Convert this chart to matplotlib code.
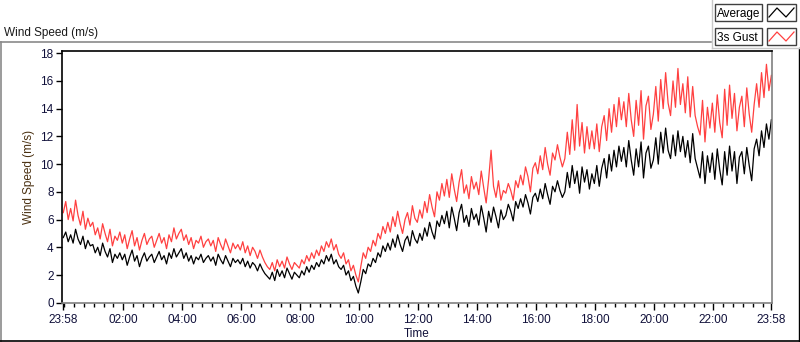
import matplotlib
matplotlib.use("Agg")
import matplotlib.pyplot as plt
from matplotlib.lines import Line2D
from matplotlib.patches import Rectangle
import numpy as np

# samples every 5 minutes starting at 23:58, one row per hour
step_min = 5
avg_rows = [
    [4.7, 5.1, 4.4, 4.9, 4.3, 5.3, 4.6, 4.2, 4.8, 3.9, 4.5, 4.1],
    [4.2, 3.6, 4.0, 3.4, 4.3, 3.7, 3.3, 3.9, 2.9, 3.5, 3.2, 3.6],
    [3.1, 3.5, 2.7, 3.3, 3.8, 3.0, 3.4, 2.6, 3.2, 3.6, 3.0, 3.3],
    [3.5, 2.9, 3.3, 3.7, 3.1, 3.4, 2.8, 3.6, 3.2, 3.9, 3.3, 3.6],
    [3.9, 3.2, 3.6, 3.0, 3.4, 2.8, 3.3, 3.1, 3.5, 2.9, 3.2, 3.4],
    [3.0, 3.3, 2.7, 3.5, 3.1, 2.8, 3.4, 3.0, 2.6, 3.2, 2.9, 3.1],
    [2.8, 3.2, 2.6, 3.0, 2.5, 2.9, 2.7, 2.3, 2.8, 2.4, 2.1, 1.9],
    [1.7, 2.2, 1.6, 2.4, 1.9, 2.3, 1.8, 2.5, 2.1, 1.7, 2.2, 2.0],
    [1.8, 2.3, 2.0, 2.6, 2.2, 2.7, 2.4, 2.9, 2.6, 3.1, 2.8, 3.4],
    [3.0, 3.5, 2.8, 3.1, 2.6, 2.4, 2.7, 2.0, 2.3, 1.6, 1.9, 1.2],
    [0.7, 1.5, 2.4, 2.1, 2.8, 2.6, 3.2, 2.9, 3.6, 3.3, 4.1, 3.7],
    [4.3, 3.8, 4.6, 4.0, 4.9, 4.2, 3.7, 4.5, 4.8, 4.1, 5.2, 4.6],
    [4.3, 5.0, 4.5, 5.4, 4.8, 5.8, 5.1, 4.6, 5.9, 5.5, 6.3, 5.7],
    [6.6, 5.4, 6.9, 6.1, 5.2, 6.5, 7.1, 5.8, 6.3, 5.5, 6.8, 6.0],
    [6.4, 5.6, 7.0, 6.1, 5.1, 6.6, 5.8, 6.9, 6.2, 5.4, 6.7, 6.0],
    [6.3, 7.1, 6.6, 5.9, 7.3, 6.8, 7.5, 6.9, 7.8, 7.2, 6.4, 7.6],
    [7.9, 7.3, 8.2, 7.5, 8.6, 7.8, 7.1, 8.4, 8.0, 8.8, 8.1, 7.6],
    [8.0, 9.4, 8.3, 9.9, 8.6, 9.5, 7.9, 9.8, 8.7, 9.6, 8.2, 9.3],
    [8.6, 9.9, 8.4, 9.7, 10.4, 9.0, 10.7, 9.5, 11.0, 9.8, 11.3, 10.2],
    [11.2, 9.8, 11.7, 10.3, 9.2, 11.1, 9.8, 11.6, 9.0, 10.8, 11.3, 9.7],
    [10.3, 11.9, 10.0, 12.3, 10.8, 12.6, 11.0, 10.4, 12.1, 10.6, 12.4, 10.9],
    [12.0, 10.5, 11.7, 10.1, 12.2, 10.4, 9.7, 9.0, 10.9, 8.6, 10.6, 9.4],
    [10.8, 8.9, 11.1, 9.6, 8.5, 10.9, 9.2, 11.3, 9.5, 10.9, 8.6, 10.5],
    [10.9, 9.3, 11.2, 9.9, 8.8, 11.1, 11.8, 10.6, 12.4, 11.2, 12.9, 11.8],
    [13.2],
]
gust_rows = [
    [6.5, 7.3, 6.0, 6.8, 5.9, 7.4, 6.3, 5.6, 6.6, 5.3, 6.1, 5.5],
    [5.8, 4.9, 5.4, 4.6, 5.7, 5.0, 4.4, 5.3, 4.1, 4.8, 4.5, 5.1],
    [4.3, 4.9, 3.9, 4.6, 5.2, 4.1, 4.7, 3.8, 4.5, 5.0, 4.2, 4.6],
    [4.8, 4.0, 4.5, 5.0, 4.3, 4.7, 3.9, 4.9, 4.4, 5.4, 4.6, 5.0],
    [5.3, 4.5, 4.9, 4.2, 4.7, 3.9, 4.5, 4.3, 4.8, 4.0, 4.4, 4.6],
    [4.1, 4.5, 3.7, 4.7, 4.2, 3.8, 4.6, 4.1, 3.6, 4.3, 3.9, 4.2],
    [3.8, 4.4, 3.6, 4.1, 3.4, 4.0, 3.7, 3.2, 3.8, 3.3, 2.9, 2.6],
    [2.4, 2.9, 2.3, 3.1, 2.6, 3.0, 2.5, 3.3, 2.8, 2.4, 2.9, 2.7],
    [2.5, 3.1, 2.8, 3.4, 3.0, 3.6, 3.2, 3.8, 3.4, 4.1, 3.7, 4.4],
    [4.0, 4.6, 3.8, 4.2, 3.5, 3.2, 3.6, 2.8, 3.1, 2.3, 2.7, 2.0],
    [1.5, 2.6, 3.6, 3.2, 4.0, 3.7, 4.5, 4.1, 5.0, 4.6, 5.5, 5.0],
    [5.8, 5.1, 6.2, 5.5, 6.6, 5.7, 5.0, 6.0, 6.5, 5.6, 7.0, 6.1],
    [5.8, 6.7, 6.1, 7.3, 6.5, 7.8, 6.9, 6.2, 8.0, 7.4, 8.6, 7.7],
    [8.9, 7.6, 9.3, 8.2, 7.3, 8.7, 9.6, 7.9, 8.5, 7.5, 9.1, 8.2],
    [8.7, 7.8, 9.5, 8.3, 7.2, 8.9, 11.0, 8.4, 7.6, 8.8, 7.4, 8.1],
    [7.9, 8.6, 8.1, 7.4, 8.8, 8.3, 9.2, 8.5, 9.8, 9.1, 8.0, 9.7],
    [10.1, 9.3, 10.6, 9.6, 11.2, 10.0, 9.2, 10.8, 10.3, 11.4, 10.5, 9.8],
    [10.4, 12.3, 10.7, 13.2, 11.0, 14.3, 11.3, 13.0, 10.8, 12.7, 11.1, 12.4],
    [11.1, 12.9, 10.9, 12.7, 13.5, 11.7, 14.0, 12.3, 14.3, 12.7, 14.8, 13.2],
    [14.5, 12.7, 15.1, 13.2, 12.0, 14.6, 12.8, 15.3, 11.8, 14.2, 14.9, 12.5],
    [13.6, 15.6, 13.1, 16.1, 14.0, 16.6, 14.4, 13.5, 16.0, 14.1, 16.9, 14.3],
    [15.8, 13.7, 16.3, 13.4, 15.6, 13.5, 12.7, 12.1, 14.6, 11.6, 14.1, 12.6],
    [14.4, 12.3, 15.0, 13.0, 11.9, 15.4, 12.8, 15.7, 13.3, 15.1, 12.4, 14.1],
    [14.9, 12.7, 15.5, 13.6, 12.3, 14.3, 15.8, 14.1, 16.6, 14.8, 17.2, 15.3],
    [16.4],
]
tick_labels = ["23:58", "02:00", "04:00", "06:00", "08:00", "10:00", "12:00",
               "14:00", "16:00", "18:00", "20:00", "22:00", "23:58"]
tick_minutes = [0, 122, 242, 362, 482, 602, 722, 842, 962, 1082, 1202, 1322, 1440]

avg = np.concatenate([np.array(r) for r in avg_rows])
gust = np.concatenate([np.array(r) for r in gust_rows])
t = np.arange(avg.size) * step_min

W, H = 800, 342
plt.rcParams["font.family"] = ["Liberation Sans", "DejaVu Sans"]
fig = plt.figure(figsize=(W / 100, H / 100), dpi=100)


def fx(px):
    return px / W


def fy(py):
    return 1 - py / H


ax = fig.add_axes([fx(62), fy(303), fx(772) - fx(62), fy(51) - fy(303)])
ax.plot(t, gust, color="#ff4040", lw=0.9)
ax.plot(t, avg, color="black", lw=0.9)
ax.set_xlim(-2.6, 1441.3)
ax.set_ylim(-0.02, 18.16)

navy = "#10103a"
ax.set_yticks(np.arange(0, 19, 2))
ax.set_xticks(tick_minutes)
ax.set_xticklabels(tick_labels)
ax.set_xticks(np.arange(2, 1440, 20), minor=True)
ax.tick_params(axis="both", which="major", direction="out", length=4, width=1,
               labelsize=8.5, labelcolor=navy, pad=2)
ax.tick_params(axis="x", which="major", length=5, pad=3)
ax.tick_params(axis="x", which="minor", direction="out", length=3, width=1)
for s in ["top", "left"]:
    ax.spines[s].set_color("black")
    ax.spines[s].set_linewidth(1.2)
for s in ["right", "bottom"]:
    ax.spines[s].set_color("#808080")
    ax.spines[s].set_linewidth(1.2)

ax.set_ylabel("Wind Speed (m/s)", fontsize=8.5, color="#4a3010", labelpad=4)
fig.text(fx(417), fy(337), "Time", ha="center", va="baseline",
         fontsize=8.5, color=navy)
fig.text(fx(4), fy(36), "Wind Speed (m/s)", ha="left", va="baseline",
         fontsize=8.5, color="#1a1a1a")

# outer frame
gray = "#8a8a8a"
fig.add_artist(Line2D([fx(0), fx(711)], [fy(42), fy(42)], color=gray, lw=1.2))
fig.add_artist(Line2D([fx(0.5), fx(0.5)], [fy(42), fy(342)], color=gray, lw=1.2))
fig.add_artist(Line2D([fx(0), fx(800)], [fy(341), fy(341)], color="black", lw=1.2))
fig.add_artist(Line2D([fx(799), fx(799)], [fy(48), fy(342)], color="black", lw=1.0))
fig.add_artist(Line2D([fx(712), fx(712)], [fy(0), fy(48)], color="#c8c8c8", lw=1.0))
fig.add_artist(Line2D([fx(712), fx(800)], [fy(48), fy(48)], color="#c8c8c8", lw=1.0))

# legend boxes
legend_items = [("Average", "black", 4), ("3s Gust", "#ff4040", 28)]
for name, col, top in legend_items:
    fig.add_artist(Rectangle((fx(715), fy(top + 17)), fx(47), fy(0) - fy(17),
                             facecolor="white", edgecolor="#404040", lw=1.0))
    fig.text(fx(717), fy(top + 13), name, ha="left", va="baseline",
             fontsize=8.5, color="black")
    fig.add_artist(Rectangle((fx(767), fy(top + 17)), fx(29), fy(0) - fy(17),
                             facecolor="white", edgecolor="#404040", lw=1.0))
    zx = [769, 777, 786, 794]
    zy = [top + 13, top + 4, top + 13, top + 4]
    fig.add_artist(Line2D([fx(v) for v in zx], [fy(v) for v in zy],
                          color=col, lw=0.9))

fig.savefig("out.png", dpi=100)
